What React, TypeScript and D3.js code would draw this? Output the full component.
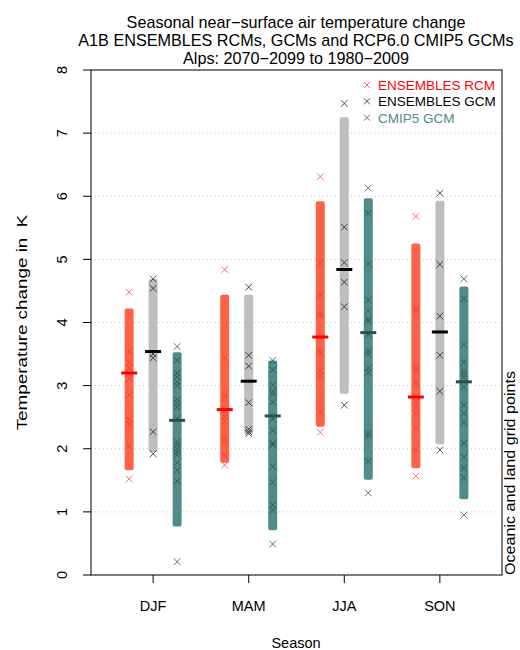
import React from "react";
import { scaleLinear, scalePoint } from "d3";

const seasons = ["DJF", "MAM", "JJA", "SON"];
const models = ["rcm", "gcm", "cmip5"];
const yTicks = [0, 1, 2, 3, 4, 5, 6, 7, 8];
const legendLabels = ["ENSEMBLES RCM", "ENSEMBLES GCM", "CMIP5 GCM"];

// single members, K
const rcmValues = [
  [4.48, 3.54, 3.37, 3.28, 3.2, 3.11, 2.85, 2.46, 2.39, 2.04, 1.52],
  [4.84, 3.44, 2.86, 2.81, 2.62, 2.5, 2.44, 2.16, 2.11, 1.9, 1.74],
  [6.31, 4.94, 4.44, 4.14, 4.11, 3.77, 3.52, 3.23, 3.15, 2.58, 2.26],
  [5.68, 4.22, 4.19, 3.28, 3.23, 3.05, 2.82, 2.74, 2.66, 2.56, 2.32, 1.99, 1.57]
];
const gcmValues = [
  [4.69, 4.54, 3.5, 3.44, 2.27, 1.92],
  [4.56, 3.48, 3.31, 2.73, 2.31, 2.27, 2.24],
  [7.47, 5.51, 4.95, 4.64, 4.25, 2.69],
  [6.05, 4.92, 4.1, 3.48, 2.91, 1.98]
];
const cmip5Values = [
  [3.62, 3.4, 3.2, 3.14, 3.06, 3.0, 2.78, 2.72, 2.66, 2.48, 2.11, 2.06, 2.0, 1.95, 1.9, 1.78, 1.66, 1.49, 0.21],
  [3.4, 3.25, 3.01, 2.91, 2.87, 2.74, 2.47, 2.29, 2.09, 2.06, 1.72, 1.47, 1.11, 1.03, 0.49],
  [6.13, 5.73, 4.93, 4.36, 4.19, 4.06, 4.02, 3.81, 3.55, 3.5, 3.28, 3.21, 2.25, 2.2, 1.8, 1.3],
  [4.69, 4.38, 3.65, 3.37, 3.24, 3.19, 3.13, 2.98, 2.69, 2.56, 2.42, 2.09, 1.87, 1.69, 1.54, 0.95]
];

// range bars [low, high] and medians
const rcmRange = [[1.66, 4.22], [1.78, 4.44], [2.35, 5.92], [1.69, 5.25]];
const gcmRange = [[1.95, 4.69], [2.24, 4.44], [2.87, 7.25], [2.07, 5.93]];
const cmip5Range = [[0.77, 3.53], [0.71, 3.4], [1.51, 5.97], [1.2, 4.57]];
const rcmMedian = [3.2, 2.62, 3.77, 2.82];
const gcmMedian = [3.54, 3.07, 4.84, 3.85];
const cmip5Median = [2.45, 2.52, 3.84, 3.06];

const styles = {
  rcm: { bar: "#FF6347", med: "#FF0000", cross: "#FF3030", text: "#FF0000", crossOpacity: 0.7 },
  gcm: { bar: "#BEBEBE", med: "#000000", cross: "#222222", text: "#000000", crossOpacity: 0.8 },
  cmip5: { bar: "#528B8B", med: "#2F4F4F", cross: "#2F4F4F", text: "#528B8B", crossOpacity: 0.8 }
};

const W = 520, H = 650;
const left = 91, right = 502, top = 70, bottom = 575;
const font = "'Liberation Sans', Arial, Helvetica, sans-serif";

function Cross({ x, y, color, opacity, r = 3.3 }) {
  return (
    <path
      d={`M${x - r},${y - r}L${x + r},${y + r}M${x - r},${y + r}L${x + r},${y - r}`}
      stroke={color}
      strokeOpacity={opacity}
      strokeWidth={1}
      fill="none"
    />
  );
}

export default function App() {
  const y = scaleLinear().domain([0, 8]).range([bottom, top]);
  const x = scalePoint().domain(seasons).range([left, right]).padding(0.65);
  const off = scalePoint().domain(models).range([-24, 24]);

  const data = {
    rcm: { values: rcmValues, range: rcmRange, median: rcmMedian },
    gcm: { values: gcmValues, range: gcmRange, median: gcmMedian },
    cmip5: { values: cmip5Values, range: cmip5Range, median: cmip5Median }
  };
  const barW = 9, medW = 16;

  return (
    <svg width={W} height={H} style={{ position: "absolute", left: 0, top: 0, background: "#fff" }} fontFamily={font}>
      <text x={296} y={27.5} textAnchor="middle" fontSize={16.2}>Seasonal near−surface air temperature change</text>
      <text x={296} y={45.5} textAnchor="middle" fontSize={16.2}>A1B ENSEMBLES RCMs, GCMs and RCP6.0 CMIP5 GCMs</text>
      <text x={296} y={63.5} textAnchor="middle" fontSize={16.2}>Alps: 2070−2099 to 1980−2009</text>

      {yTicks.map(t => (
        <g key={t}>
          <line x1={left} x2={right} y1={y(t)} y2={y(t)} stroke="#C8C8C8" strokeDasharray="1,3" />
          <line x1={left - 8} x2={left} y1={y(t)} y2={y(t)} stroke="#000" />
          <text
            transform={`translate(${67},${y(t)}) rotate(-90)`}
            textAnchor="middle"
            fontSize={14.5}
          >
            {t}
          </text>
        </g>
      ))}

      {models.map(m =>
        seasons.map((s, i) => {
          const cx = x(s) + off(m);
          const st = styles[m];
          const [lo, hi] = data[m].range[i];
          return (
            <g key={m + s}>
              <rect x={cx - barW / 2} y={y(hi)} width={barW} height={y(lo) - y(hi)} rx={2} fill={st.bar} />
              {data[m].values[i].map((v, k) => (
                <Cross key={k} x={cx} y={y(v)} color={st.cross} opacity={st.crossOpacity} />
              ))}
              <line x1={cx - medW / 2} x2={cx + medW / 2} y1={y(data[m].median[i])} y2={y(data[m].median[i])} stroke={st.med} strokeWidth={3} />
            </g>
          );
        })
      )}

      <rect x={left} y={top} width={right - left} height={bottom - top} fill="none" stroke="#000" />

      {seasons.map(s => (
        <g key={s}>
          <line x1={x(s)} x2={x(s)} y1={bottom} y2={bottom + 8} stroke="#000" />
          <text x={x(s)} y={611} textAnchor="middle" fontSize={14.5}>{s}</text>
        </g>
      ))}

      {legendLabels.map((l, i) => {
        const st = styles[models[i]];
        const ly = 85 + i * 16.3;
        return (
          <g key={l}>
            <Cross x={367} y={ly} color={st.cross} opacity={st.crossOpacity} r={3} />
            <text x={378} y={ly + 5} fontSize={13.5} fill={st.text}>{l}</text>
          </g>
        );
      })}

      <text x={296} y={648} textAnchor="middle" fontSize={14.5}>Season</text>
      <text transform={`translate(27,${(top + bottom) / 2}) rotate(-90) scale(1.3,1)`} textAnchor="middle" fontSize={14.5}>
        {"Temperature change in\u00A0\u00A0K"}
      </text>
      <text transform={`translate(515,${bottom}) rotate(-90) scale(1.15,1)`} textAnchor="start" fontSize={14}>
        Oceanic and land grid points
      </text>
    </svg>
  );
}
